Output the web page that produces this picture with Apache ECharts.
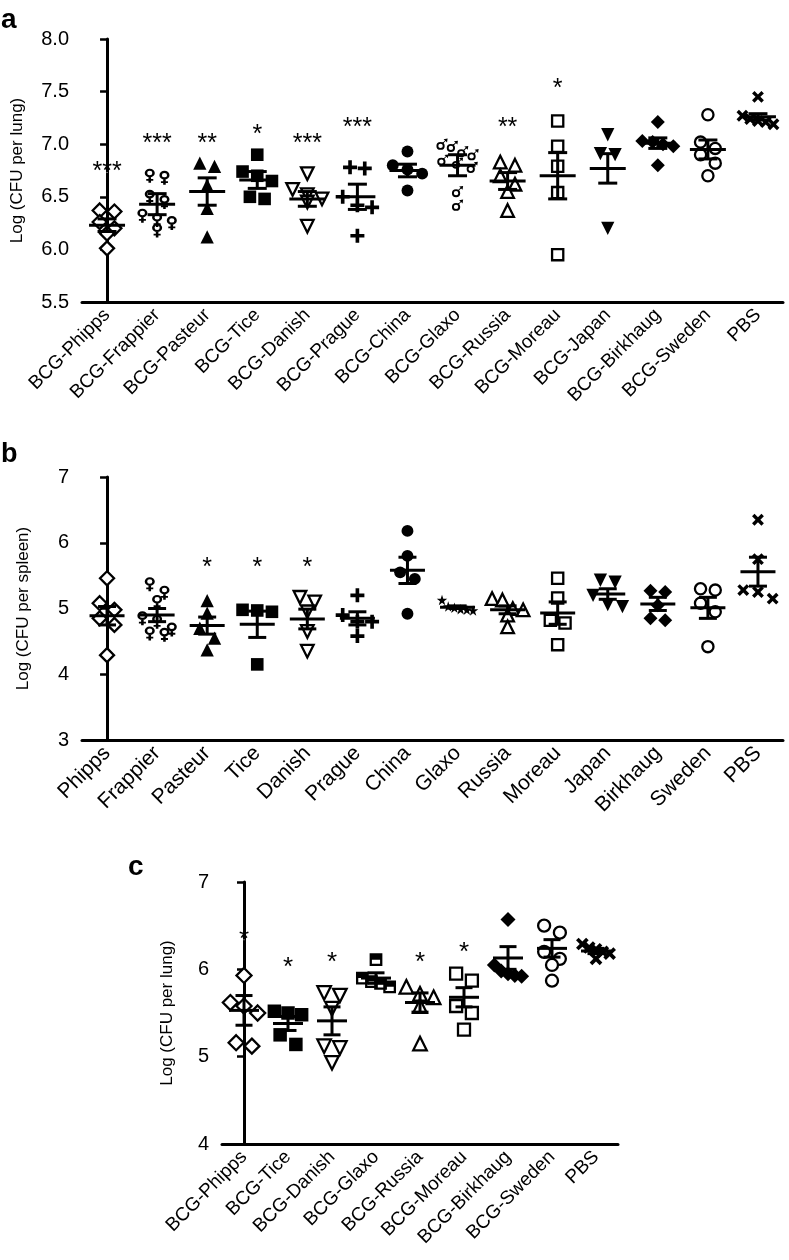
<!DOCTYPE html>
<html lang="en">
<head>
    <meta charset="UTF-8">
    <title>BCG strains CFU</title>
    <script src="https://cdn.jsdelivr.net/npm/echarts@6/dist/echarts.min.js"></script>
    <style type="text/css">
        html, body {
            margin: 0;
            padding: 0;
            background: #fff;
        }

        #chart {
            width: 789px;
            height: 1260px;
        }
    </style>
</head>
<body>
<div id="chart"></div>
<script type="text/javascript">
    // ---- panel a: lung, 14 groups ----
    const catsA = ['BCG-Phipps', 'BCG-Frappier', 'BCG-Pasteur', 'BCG-Tice', 'BCG-Danish', 'BCG-Prague', 'BCG-China',
        'BCG-Glaxo', 'BCG-Russia', 'BCG-Moreau', 'BCG-Japan', 'BCG-Birkhaug', 'BCG-Sweden', 'PBS'];
    const pointsA = [
        [6.37, 6.36, 6.26, 6.20, 6.15, 6.01],
        [6.70, 6.68, 6.50, 6.45, 6.32, 6.28, 6.25, 6.18],
        [6.82, 6.79, 6.61, 6.39, 6.12],
        [6.90, 6.74, 6.70, 6.65, 6.50, 6.48],
        [6.72, 6.57, 6.52, 6.48, 6.45, 6.22],
        [6.78, 6.77, 6.50, 6.42, 6.40, 6.13],
        [6.93, 6.80, 6.76, 6.72, 6.56],
        [7.00, 6.98, 6.93, 6.90, 6.85, 6.82, 6.78, 6.55, 6.42],
        [6.83, 6.80, 6.70, 6.62, 6.55, 6.37],
        [7.22, 6.98, 6.79, 6.54, 5.95],
        [7.09, 6.91, 6.90, 6.20],
        [7.21, 7.03, 7.02, 7.00, 6.98, 6.80],
        [7.28, 7.02, 6.96, 6.90, 6.82, 6.70],
        [7.45, 7.27, 7.24, 7.22, 7.21, 7.19]
    ];
    const meanA = [6.23, 6.43, 6.55, 6.66, 6.48, 6.50, 6.75, 6.80, 6.65, 6.70, 6.77, 7.01, 6.95, 7.26];
    const semA = [0.06, 0.10, 0.13, 0.08, 0.07, 0.12, 0.06, 0.10, 0.08, 0.22, 0.14, 0.05, 0.09, 0.03];
    const starsA = ['***', '***', '**', '*', '***', '***', '', '', '**', '*', '', '', '', ''];
    const starYA = [6.73, 7.0, 7.0, 7.09, 7.0, 7.15, null, null, 7.15, 7.52, null, null, null, null];
    const markersA = ['diamondO', 'female', 'triangle', 'square', 'triangleDownO', 'plus', 'circle',
        'male', 'triangleO', 'squareO', 'triangleDown', 'diamond', 'circleO', 'cross'];

    // ---- panel b: spleen, 14 groups ----
    const catsB = ['Phipps', 'Frappier', 'Pasteur', 'Tice', 'Danish', 'Prague', 'China',
        'Glaxo', 'Russia', 'Moreau', 'Japan', 'Birkhaug', 'Sweden', 'PBS'];
    const pointsB = [
        [5.46, 5.08, 4.98, 4.85, 4.75, 4.29],
        [5.37, 5.24, 5.10, 4.85, 4.80, 4.68, 4.62, 4.60],
        [5.12, 4.93, 4.70, 4.55, 4.37],
        [4.98, 4.97, 4.95, 4.15],
        [5.17, 5.10, 4.95, 4.65, 4.35],
        [5.20, 4.90, 4.80, 4.80, 4.58],
        [6.18, 5.80, 5.55, 5.45, 4.92],
        [5.13, 5.03, 5.01, 4.99, 4.98, 4.97],
        [5.15, 5.13, 5.00, 4.98, 4.90, 4.72],
        [5.46, 5.16, 4.82, 4.78, 4.45],
        [5.43, 5.40, 5.20, 5.06, 5.03],
        [5.27, 5.25, 5.05, 4.85, 4.82],
        [5.30, 5.28, 5.08, 4.95, 4.42],
        [6.35, 5.75, 5.28, 5.25, 5.15]
    ];
    const meanB = [4.89, 4.90, 4.74, 4.76, 4.84, 4.85, 5.58, 5.02, 4.98, 4.93, 5.22, 5.07, 5.01, 5.56];
    const semB = [0.14, 0.10, 0.13, 0.20, 0.15, 0.10, 0.20, 0.02, 0.06, 0.17, 0.08, 0.10, 0.16, 0.22];
    const starsB = ['', '', '*', '*', '*', '', '', '', '', '', '', '', '', ''];
    const starYB = [null, null, 5.61, 5.61, 5.61, null, null, null, null, null, null, null, null, null];
    const markersB = ['diamondO', 'female', 'triangle', 'square', 'triangleDownO', 'plus', 'circle',
        'star', 'triangleO', 'squareO', 'triangleDown', 'diamond', 'circleO', 'cross'];

    // ---- panel c: lung, 9 groups ----
    const catsC = ['BCG-Phipps', 'BCG-Tice', 'BCG-Danish', 'BCG-Glaxo', 'BCG-Russia', 'BCG-Moreau',
        'BCG-Birkhaug', 'BCG-Sweden', 'PBS'];
    const pointsC = [
        [5.93, 5.62, 5.58, 5.50, 5.16, 5.12],
        [5.52, 5.50, 5.48, 5.25, 5.14],
        [5.73, 5.70, 5.55, 5.12, 5.10, 4.93],
        [6.11, 5.90, 5.86, 5.84, 5.80],
        [5.80, 5.72, 5.68, 5.58, 5.15],
        [5.95, 5.87, 5.58, 5.50, 5.31],
        [6.57, 6.05, 5.98, 5.95, 5.93, 5.92],
        [6.50, 6.42, 6.20, 6.12, 6.05, 5.87],
        [6.29, 6.25, 6.23, 6.20, 6.18, 6.12]
    ];
    const meanC = [5.53, 5.38, 5.41, 5.90, 5.62, 5.68, 6.13, 6.24, 6.21];
    const semC = [0.17, 0.08, 0.16, 0.06, 0.11, 0.11, 0.13, 0.10, 0.03];
    const starsC = ['*', '*', '*', '', '*', '*', '', '', ''];
    const starYC = [6.34, 6.02, 6.07, null, 6.07, 6.19, null, null, null];
    const markersC = ['diamondO', 'square', 'triangleDownO', 'squareHalf', 'triangleO', 'squareO',
        'diamond', 'circleO', 'cross'];

    const FONT = '"Liberation Sans", Arial, Helvetica, sans-serif';

    // symbol paths
    const PLUS = 'path://M3.7,0H6.3V3.7H10V6.3H6.3V10H3.7V6.3H0V3.7H3.7Z';
    const FEMALE = 'path://M0.7,4.3A4.3,4.3 0 1,1 9.3,4.3A4.3,4.3 0 1,1 0.7,4.3Z' +
        'M2.8,4.3A2.2,2.2 0 1,0 7.2,4.3A2.2,2.2 0 1,0 2.8,4.3Z' +
        'M3.9,8.4H6.1V14H3.9Z M2,10.3H8V12.1H2Z';
    const MALE = 'path://M0.5,6.5A3.5,3.5 0 1,1 7.5,6.5A3.5,3.5 0 1,1 0.5,6.5Z' +
        'M2.1,6.5A1.9,1.9 0 1,0 5.9,6.5A1.9,1.9 0 1,0 2.1,6.5Z' +
        'M5.6,3.9L7.8,1.7L6.6,0.5L10,0L9.5,3.4L8.3,2.2L6.1,4.4Z';
    const STAR = 'path://M5,0L6.18,3.62L10,3.62L6.91,5.85L8.09,9.51L5,7.27L1.91,9.51L3.09,5.85L0,3.62L3.82,3.62Z';
    const HALFSQ = 'path://M0,0H10V10H0Z M1.8,5V8.2H8.2V5Z';

    function markerStyle(key, s) {
        const solid = {color: '#000', opacity: 1};
        const hollow = {color: '#fff', borderColor: '#000', borderWidth: 2.3, opacity: 1};
        switch (key) {
            case 'diamondO': return {symbol: 'diamond', symbolSize: s, itemStyle: hollow};
            case 'diamond': return {symbol: 'diamond', symbolSize: s, itemStyle: solid};
            case 'triangle': return {symbol: 'triangle', symbolSize: s * 0.95, itemStyle: solid};
            case 'triangleO': return {symbol: 'triangle', symbolSize: s * 0.9, itemStyle: hollow};
            case 'triangleDown': return {symbol: 'triangle', symbolSize: s * 0.95, symbolRotate: 180, itemStyle: solid};
            case 'triangleDownO': return {symbol: 'triangle', symbolSize: s * 0.9, symbolRotate: 180, itemStyle: hollow};
            case 'square': return {symbol: 'rect', symbolSize: s * 0.9, itemStyle: solid};
            case 'squareO': return {symbol: 'rect', symbolSize: s * 0.8, itemStyle: hollow};
            case 'squareHalf': return {symbol: HALFSQ, symbolSize: s * 0.85, itemStyle: solid};
            case 'circle': return {symbol: 'circle', symbolSize: s * 0.85, itemStyle: solid};
            case 'circleO': return {symbol: 'circle', symbolSize: s * 0.8, itemStyle: hollow};
            case 'plus': return {symbol: PLUS, symbolSize: s, itemStyle: solid};
            case 'cross': return {symbol: PLUS, symbolSize: s * 0.95, symbolRotate: 45, itemStyle: solid};
            case 'female': return {symbol: FEMALE, symbolSize: [s * 0.72, s], itemStyle: solid};
            case 'male': return {symbol: MALE, symbolSize: s * 0.8, itemStyle: solid};
            case 'star': return {symbol: STAR, symbolSize: s * 0.75, itemStyle: solid};
        }
    }

    // spread points that sit at nearly the same height (like a dot plot)
    function swarm(vals, pxPerVal, bandPx, s) {
        const idx = vals.map((v, i) => i).sort((a, b) => vals[b] - vals[a]);
        const rows = [];
        let cur = null;
        idx.forEach(i => {
            if (!cur || (vals[cur[0]] - vals[i]) * pxPerVal > s * 0.8) {
                cur = [i];
                rows.push(cur);
            } else {
                cur.push(i);
            }
        });
        const off = new Array(vals.length);
        rows.forEach(r => {
            let step = s * 1.05;
            if (r.length > 1) step = Math.min(step, bandPx * 0.62 / (r.length - 1));
            r.forEach((i, j) => {
                off[i] = (j - (r.length - 1) / 2) * step / bandPx;
            });
        });
        return off;
    }

    // panels: grid boxes in px
    const panels = [
        {cats: catsA, pts: pointsA, mean: meanA, sem: semA, stars: starsA, starY: starYA, marks: markersA,
            left: 82, top: 39, width: 701, height: 263, min: 5.5, max: 8.0, step: 0.5, dec: 1,
            name: 'Log (CFU per lung)', nameGap: 56, xfs: 19, sym: 14, half: 18, cap: 9.5, starFs: 25},
        {cats: catsB, pts: pointsB, mean: meanB, sem: semB, stars: starsB, starY: starYB, marks: markersB,
            left: 82, top: 477, width: 701, height: 263, min: 3, max: 7, step: 1, dec: 0,
            name: 'Log (CFU per spleen)', nameGap: 50, xfs: 21, sym: 14, half: 17.5, cap: 9, starFs: 25},
        {cats: catsC, pts: pointsC, mean: meanC, sem: semC, stars: starsC, starY: starYC, marks: markersC,
            left: 222, top: 882, width: 396, height: 262, min: 4, max: 7, step: 1, dec: 0,
            name: 'Log (CFU per lung)', nameGap: 46, xfs: 19, sym: 15, half: 15, cap: 8.5, starFs: 26}
    ];

    const grids = [], xAxes = [], yAxes = [], series = [];

    panels.forEach((p, k) => {
        const n = p.cats.length;
        const pxPerVal = p.height / (p.max - p.min);
        const bandPx = p.width / n;
        grids.push({left: p.left, top: p.top, width: p.width, height: p.height});
        xAxes.push({
            type: 'category', gridIndex: k, data: p.cats,
            axisLine: {lineStyle: {color: '#000', width: 3}},
            axisTick: {alignWithLabel: true, length: 8, lineStyle: {color: '#000', width: 2.5}},
            axisLabel: {interval: 0, rotate: 45, margin: 10, fontSize: p.xfs, color: '#000', fontFamily: FONT},
            splitLine: {show: false}
        });
        xAxes.push({type: 'value', gridIndex: k, min: -0.5, max: n - 0.5, show: false});
        yAxes.push({
            type: 'value', gridIndex: k, min: p.min, max: p.max, interval: p.step,
            axisLine: {show: true, lineStyle: {color: '#000', width: 3}},
            axisTick: {show: true, length: 7, lineStyle: {color: '#000', width: 2.5}},
            axisLabel: {fontSize: 20, color: '#000', margin: 13, fontFamily: FONT,
                formatter: v => v.toFixed(p.dec)},
            splitLine: {show: false},
            name: p.name, nameLocation: 'middle', nameGap: p.nameGap,
            nameTextStyle: {fontSize: 17, color: '#000', fontFamily: FONT}
        });

        // scatter points
        const data = [];
        p.pts.forEach((vals, i) => {
            const off = swarm(vals, pxPerVal, bandPx, p.sym);
            const st = markerStyle(p.marks[i], p.sym);
            vals.forEach((v, j) => {
                data.push(Object.assign({value: [i + off[j], v]}, st));
            });
        });
        series.push({
            type: 'scatter', xAxisIndex: 2 * k + 1, yAxisIndex: k, data: data, z: 2, silent: true,
            itemStyle: {opacity: 1}
        });

        // mean +- SEM
        series.push({
            type: 'custom', xAxisIndex: 2 * k + 1, yAxisIndex: k, z: 4, silent: true,
            data: p.mean.map((m, i) => [i, m, p.sem[i]]),
            renderItem: (params, api) => {
                const x = api.value(0), m = api.value(1), e = api.value(2);
                const c = api.coord([x, m]), t = api.coord([x, m + e]), b = api.coord([x, m - e]);
                const st = {stroke: '#000', lineWidth: 3};
                return {
                    type: 'group', children: [
                        {type: 'line', shape: {x1: c[0] - p.half, y1: c[1], x2: c[0] + p.half, y2: c[1]}, style: st},
                        {type: 'line', shape: {x1: c[0], y1: t[1], x2: c[0], y2: b[1]}, style: st},
                        {type: 'line', shape: {x1: c[0] - p.cap, y1: t[1], x2: c[0] + p.cap, y2: t[1]}, style: st},
                        {type: 'line', shape: {x1: c[0] - p.cap, y1: b[1], x2: c[0] + p.cap, y2: b[1]}, style: st}
                    ]
                };
            }
        });

        // significance stars, as labels of invisible points
        const starData = [];
        p.starY.forEach((y, i) => {
            if (y !== null) starData.push({value: [i, y], label: {formatter: p.stars[i]}});
        });
        series.push({
            type: 'scatter', xAxisIndex: 2 * k + 1, yAxisIndex: k, z: 6, silent: true,
            symbolSize: 1, itemStyle: {color: '#fff', opacity: 1},
            data: starData,
            label: {
                show: true, position: 'inside', offset: [0, 9],
                fontSize: p.starFs, fontFamily: FONT, color: '#000', opacity: 1,
                textBorderWidth: 0
            },
            labelLayout: {hideOverlap: false}
        });
    });

    const chart = echarts.init(document.getElementById('chart'), null, {renderer: 'canvas'});
    chart.setOption({
        animation: false,
        backgroundColor: '#fff',
        textStyle: {fontFamily: FONT},
        grid: grids,
        xAxis: xAxes,
        yAxis: yAxes,
        series: series,
        graphic: [
            {type: 'text', left: 1, top: 6, style: {text: 'a', font: 'bold 28px ' + FONT, fill: '#000'}},
            {type: 'text', left: 1, top: 441, style: {text: 'b', font: 'bold 27px ' + FONT, fill: '#000'}},
            {type: 'text', left: 128, top: 853, style: {text: 'c', font: 'bold 28px ' + FONT, fill: '#000'}}
        ]
    });
</script>
</body>
</html>
